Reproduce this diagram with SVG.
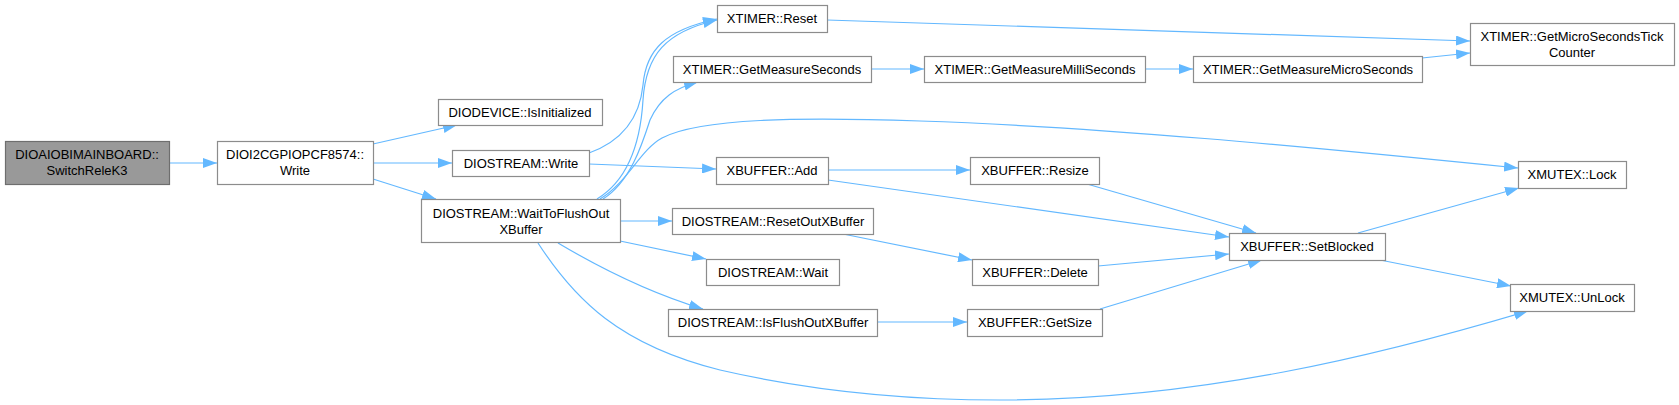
<svg xmlns="http://www.w3.org/2000/svg" width="1679" height="405" viewBox="0 0 1679 405">
<style>
.n rect{fill:#ffffff;stroke:#8c8c8c;stroke-width:1.2}
.root rect{fill:#999999;stroke:#6e6e6e}
text{font-family:"Liberation Sans",Arial,sans-serif;font-size:13px;fill:#000;text-anchor:middle}
.e path{fill:none;stroke:#63b8ff;stroke-width:1.2;marker-end:url(#ah)}
</style>
<defs>
<marker id="ah" markerUnits="userSpaceOnUse" markerWidth="14" markerHeight="10" refX="14" refY="5" orient="auto">
<path d="M0,0 L14,5 L0,10 z" fill="#63b8ff"/>
</marker>
</defs>
<rect width="1679" height="405" fill="#ffffff"/>
<g id="edges" class="e">
<path d="M169,163 L217,163"/>
<path d="M373,144 L457,125"/>
<path d="M373,163 L452,163"/>
<path d="M373,179 L436,199"/>
<path d="M589,153 C625,140 640,115 643,85 C646,50 665,30 717,19"/>
<path d="M589,164 L716,169"/>
<path d="M597,199 C625,182 640,150 643,100 C646,55 665,32 717,20"/>
<path d="M603,199 C630,182 642,145 650,120 C660,98 675,88 698,82"/>
<path d="M600,199 C628,182 640,150 662,138 C700,118 800,117 920,121 C1100,127 1300,146 1518,168"/>
<path d="M620,221 L672,221"/>
<path d="M620,241 L706,259"/>
<path d="M558,243 C590,262 640,290 703,309"/>
<path d="M538,243 C575,300 620,345 720,370 C820,393 920,400 1000,400 C1200,400 1380,355 1528,311"/>
<path d="M827,20 L1470,41"/>
<path d="M871,69 L924,69"/>
<path d="M1145,69 L1193,69"/>
<path d="M1422,58 L1470,53"/>
<path d="M828,170 L970,170"/>
<path d="M828,180 L1229,237"/>
<path d="M1087,184 L1256,233"/>
<path d="M843,234 L972,260"/>
<path d="M1098,266 L1229,254"/>
<path d="M1100,309 L1262,260"/>
<path d="M877,322 L967,322"/>
<path d="M1358,233 L1519,188"/>
<path d="M1380,260 L1511,286"/>
</g>
<g id="n1" class="n root"><rect x="5.5" y="141.5" width="164" height="43"/><text x="87" y="159">DIOAIOBIMAINBOARD::</text><text x="87" y="175">SwitchReleK3</text></g>
<g id="n2" class="n"><rect x="217.5" y="141.5" width="156" height="43"/><text x="295" y="159">DIOI2CGPIOPCF8574::</text><text x="295" y="175">Write</text></g>
<g id="n3" class="n"><rect x="438.5" y="99.5" width="164" height="26"/><text x="520" y="117">DIODEVICE::IsInitialized</text></g>
<g id="n4" class="n"><rect x="452.5" y="150.5" width="137" height="26"/><text x="521" y="168">DIOSTREAM::Write</text></g>
<g id="n5" class="n"><rect x="421.5" y="199.5" width="199" height="43"/><text x="521" y="218">DIOSTREAM::WaitToFlushOut</text><text x="521" y="234">XBuffer</text></g>
<g id="n6" class="n"><rect x="717.5" y="5.5" width="110" height="27"/><text x="772" y="23">XTIMER::Reset</text></g>
<g id="n7" class="n"><rect x="673.5" y="56.5" width="198" height="26"/><text x="772" y="74">XTIMER::GetMeasureSeconds</text></g>
<g id="n8" class="n"><rect x="716.5" y="157.5" width="112" height="27"/><text x="772" y="175">XBUFFER::Add</text></g>
<g id="n9" class="n"><rect x="672.5" y="208.5" width="201" height="26"/><text x="773" y="226">DIOSTREAM::ResetOutXBuffer</text></g>
<g id="n10" class="n"><rect x="706.5" y="259.5" width="133" height="26"/><text x="773" y="277">DIOSTREAM::Wait</text></g>
<g id="n11" class="n"><rect x="668.5" y="309.5" width="209" height="27"/><text x="773" y="327">DIOSTREAM::IsFlushOutXBuffer</text></g>
<g id="n12" class="n"><rect x="924.5" y="56.5" width="221" height="26"/><text x="1035" y="74">XTIMER::GetMeasureMilliSeconds</text></g>
<g id="n13" class="n"><rect x="970.5" y="157.5" width="129" height="27"/><text x="1035" y="175">XBUFFER::Resize</text></g>
<g id="n14" class="n"><rect x="972.5" y="259.5" width="126" height="26"/><text x="1035" y="277">XBUFFER::Delete</text></g>
<g id="n15" class="n"><rect x="967.5" y="309.5" width="135" height="27"/><text x="1035" y="327">XBUFFER::GetSize</text></g>
<g id="n16" class="n"><rect x="1193.5" y="56.5" width="229" height="26"/><text x="1308" y="74">XTIMER::GetMeasureMicroSeconds</text></g>
<g id="n17" class="n"><rect x="1229.5" y="233.5" width="156" height="27"/><text x="1307" y="251">XBUFFER::SetBlocked</text></g>
<g id="n18" class="n"><rect x="1470.5" y="23.5" width="204" height="42"/><text x="1572" y="41">XTIMER::GetMicroSecondsTick</text><text x="1572" y="57">Counter</text></g>
<g id="n19" class="n"><rect x="1518.5" y="161.5" width="108" height="27"/><text x="1572" y="179">XMUTEX::Lock</text></g>
<g id="n20" class="n"><rect x="1510.5" y="284.5" width="124" height="27"/><text x="1572" y="302">XMUTEX::UnLock</text></g>
</svg>
